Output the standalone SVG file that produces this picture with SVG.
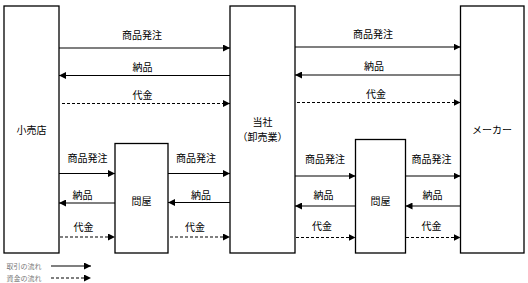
<svg xmlns="http://www.w3.org/2000/svg" width="528" height="283" viewBox="0 0 528 283">
<style>
.box{fill:#fff;stroke:#000;stroke-width:1.3}
.lbl{font-family:"Noto Sans CJK JP","Noto Sans",sans-serif;font-size:10px;fill:#000;text-anchor:middle}
.leg{font-family:"Noto Sans CJK JP","Noto Sans",sans-serif;font-size:7px;fill:#777}
.ln{stroke:#000;stroke-width:1.2;fill:none}
.ds{stroke:#000;stroke-width:1.2;fill:none;stroke-dasharray:3,2}
</style>
<defs>
<marker id="ah" viewBox="0 0 10 10" refX="10" refY="5" markerWidth="7" markerHeight="7" markerUnits="userSpaceOnUse" orient="auto">
<path d="M0,0 L10,5 L0,10 z" fill="#000"/>
</marker>
</defs>
<rect width="528" height="283" fill="#fff"/>
<g id="retail"><rect class="box" x="4" y="6" width="55" height="247"/><text class="lbl" x="31.5" y="134">小売店</text></g>
<g id="company"><rect class="box" x="230" y="6" width="65" height="247"/><text class="lbl" x="262.5" y="126">当社</text><text class="lbl" x="262.5" y="140.5">（卸売業）</text></g>
<g id="maker"><rect class="box" x="460.5" y="6" width="63.5" height="247"/><text class="lbl" x="492" y="134">メーカー</text></g>
<g id="wholesale1"><rect class="box" x="115" y="143.5" width="53" height="109.5"/><text class="lbl" x="141.5" y="205">問屋</text></g>
<g id="wholesale2"><rect class="box" x="355.5" y="139.5" width="50" height="113.5"/><text class="lbl" x="380.5" y="205">問屋</text></g>
<g id="connectors">
<line class="ln" x1="59" y1="48" x2="230" y2="48" marker-end="url(#ah)"/>
<line class="ln" x1="230" y1="75.5" x2="59" y2="75.5" marker-end="url(#ah)"/>
<line class="ds" x1="62" y1="103.5" x2="230" y2="103.5" marker-end="url(#ah)"/>
<line class="ln" x1="295" y1="47" x2="460.5" y2="47" marker-end="url(#ah)"/>
<line class="ln" x1="460.5" y1="75" x2="295" y2="75" marker-end="url(#ah)"/>
<line class="ds" x1="297" y1="102.5" x2="460.5" y2="102.5" marker-end="url(#ah)"/>
<line class="ln" x1="59" y1="173.5" x2="115" y2="173.5" marker-end="url(#ah)"/>
<line class="ln" x1="115" y1="203" x2="59" y2="203" marker-end="url(#ah)"/>
<line class="ds" x1="60" y1="237" x2="115" y2="237" marker-end="url(#ah)"/>
<line class="ln" x1="168" y1="173.5" x2="230" y2="173.5" marker-end="url(#ah)"/>
<line class="ln" x1="230" y1="202.5" x2="168" y2="202.5" marker-end="url(#ah)"/>
<line class="ds" x1="170" y1="237" x2="230" y2="237" marker-end="url(#ah)"/>
<line class="ln" x1="295" y1="176" x2="355.5" y2="176" marker-end="url(#ah)"/>
<line class="ln" x1="355.5" y1="206" x2="295" y2="206" marker-end="url(#ah)"/>
<line class="ds" x1="296" y1="237.5" x2="355.5" y2="237.5" marker-end="url(#ah)"/>
<line class="ln" x1="405.5" y1="176" x2="460.5" y2="176" marker-end="url(#ah)"/>
<line class="ln" x1="460.5" y1="206" x2="405.5" y2="206" marker-end="url(#ah)"/>
<line class="ds" x1="406" y1="237.5" x2="460.5" y2="237.5" marker-end="url(#ah)"/>
<line class="ln" x1="51" y1="266" x2="91" y2="266" marker-end="url(#ah)"/>
<line class="ds" x1="51" y1="278" x2="91" y2="278" marker-end="url(#ah)"/>
</g>
<g id="labels">
<text class="lbl" x="142" y="39">商品発注</text>
<text class="lbl" x="142.5" y="71">納品</text>
<text class="lbl" x="142.5" y="99">代金</text>
<text class="lbl" x="373" y="38">商品発注</text>
<text class="lbl" x="374" y="70">納品</text>
<text class="lbl" x="376" y="98">代金</text>
<text class="lbl" x="87.5" y="162">商品発注</text>
<text class="lbl" x="82.5" y="199">納品</text>
<text class="lbl" x="83.5" y="231">代金</text>
<text class="lbl" x="196" y="162">商品発注</text>
<text class="lbl" x="201" y="199">納品</text>
<text class="lbl" x="195" y="231">代金</text>
<text class="lbl" x="325" y="163">商品発注</text>
<text class="lbl" x="323.5" y="199">納品</text>
<text class="lbl" x="322" y="230">代金</text>
<text class="lbl" x="431.5" y="163">商品発注</text>
<text class="lbl" x="432.5" y="199">納品</text>
<text class="lbl" x="431.5" y="230">代金</text>
<text class="leg" x="6.5" y="268.5">取引の流れ</text>
<text class="leg" x="6.5" y="280.5">資金の流れ</text>
</g>
</svg>
